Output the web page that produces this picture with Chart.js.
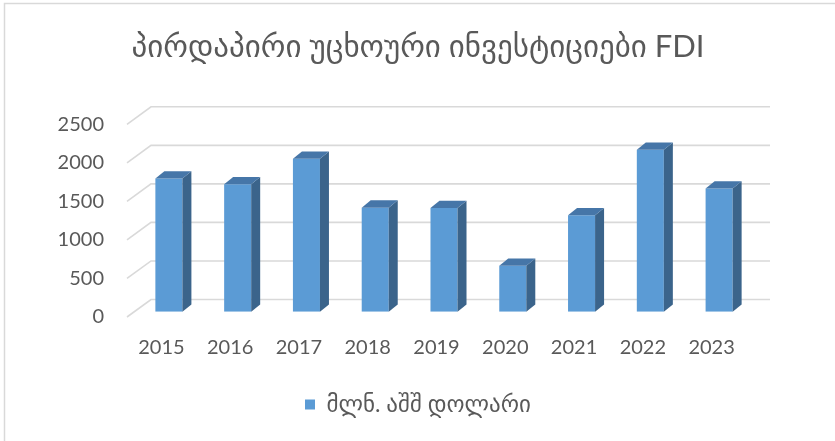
<!DOCTYPE html>
<html>
<head>
<meta charset="utf-8">
<script src="https://cdn.jsdelivr.net/npm/chart.js@4.4.1/dist/chart.umd.min.js"></script>
<style>
  html, body { margin: 0; padding: 0; background: #fff; }
  canvas { display: block; }
</style>
</head>
<body>
<canvas id="fdi" width="835" height="441"></canvas>
<script>
// data (million USD)
const years = ['2015', '2016', '2017', '2018', '2019', '2020', '2021', '2022', '2023'];
const fdiValues = [1728, 1654, 1985, 1350, 1345, 597, 1250, 2100, 1598];
const yTicks = [0, 500, 1000, 1500, 2000, 2500];

const TITLE = 'პირდაპირი უცხოური ინვესტიციები FDI';
const SERIES_LABEL = 'მლნ. აშშ დოლარი';

const FONT = "Lato, 'DejaVu Sans', sans-serif";
const TEXT = '#595959';
const GRID = '#d9d9d9';

// fake 3D: wall depth, where the bar fronts sit, how deep a bar is
const WALL = { dx: 24, dy: -17.5 };
const BAR_SHIFT = { dx: 7.5, dy: -5.3 };
const BAR_DEPTH = { dx: 9, dy: -7.3 };

const fake3d = {
  id: 'fake3d',
  beforeDraw(chart) {
    const { ctx, width, height } = chart;
    ctx.save();
    ctx.fillStyle = '#fff';
    ctx.fillRect(0, 0, width, height);
    // frame of the chart object (only left and top show in the shot)
    ctx.strokeStyle = '#d9d9d9';
    ctx.lineWidth = 1.5;
    ctx.beginPath();
    ctx.moveTo(4.5, height);
    ctx.lineTo(4.5, 3.5);
    ctx.lineTo(width, 3.5);
    ctx.stroke();
    ctx.restore();
  },
  beforeDatasetsDraw(chart) {
    const { ctx, chartArea } = chart;
    const yScale = chart.scales.y;
    ctx.save();
    ctx.strokeStyle = GRID;
    ctx.lineWidth = 1.6;
    yTicks.forEach((v) => {
      const y = yScale.getPixelForValue(v);
      ctx.beginPath();
      ctx.moveTo(chartArea.left, y);
      ctx.lineTo(chartArea.left + WALL.dx, y + WALL.dy);
      ctx.lineTo(chartArea.right + WALL.dx, y + WALL.dy);
      ctx.stroke();
    });
    ctx.restore();
    // bars get drawn a bit into the depth
    ctx.save();
    ctx.translate(BAR_SHIFT.dx, BAR_SHIFT.dy);
  },
  afterDatasetsDraw(chart) {
    const { ctx } = chart;
    const meta = chart.getDatasetMeta(0);
    meta.data.forEach((bar) => {
      const { x, y, base, width } = bar.getProps(['x', 'y', 'base', 'width'], true);
      const l = x - width / 2;
      const r = x + width / 2;
      // side
      ctx.fillStyle = '#3b648b';
      ctx.beginPath();
      ctx.moveTo(r, y);
      ctx.lineTo(r + BAR_DEPTH.dx, y + BAR_DEPTH.dy);
      ctx.lineTo(r + BAR_DEPTH.dx, base + BAR_DEPTH.dy);
      ctx.lineTo(r, base);
      ctx.closePath();
      ctx.fill();
      // top
      ctx.fillStyle = '#4676a8';
      ctx.beginPath();
      ctx.moveTo(l, y);
      ctx.lineTo(l + BAR_DEPTH.dx, y + BAR_DEPTH.dy);
      ctx.lineTo(r + BAR_DEPTH.dx, y + BAR_DEPTH.dy);
      ctx.lineTo(r, y);
      ctx.closePath();
      ctx.fill();
    });
    ctx.restore();
  },
};

new Chart(document.getElementById('fdi'), {
  type: 'bar',
  data: {
    labels: years,
    datasets: [{
      label: SERIES_LABEL,
      data: fdiValues,
      backgroundColor: '#5b9bd5',
      borderWidth: 0,
      barPercentage: 0.393,
      categoryPercentage: 1,
    }],
  },
  options: {
    responsive: false,
    animation: false,
    layout: { padding: { left: 55, right: 54, top: 0, bottom: 15 } },
    plugins: {
      title: {
        display: true,
        text: TITLE,
        color: TEXT,
        font: { family: FONT, size: 31, weight: 'normal' },
        padding: { top: 28.8, bottom: 58.3 },
      },
      legend: {
        display: true,
        position: 'bottom',
        labels: {
          color: TEXT,
          font: { family: FONT, size: 23 },
          boxWidth: 10,
          boxHeight: 10,
          padding: 10,
        },
      },
      tooltip: { enabled: false },
    },
    scales: {
      x: {
        grid: { display: false, drawTicks: false },
        border: { display: false },
        ticks: { color: TEXT, font: { family: FONT, size: 20 }, padding: 19 },
        afterFit: (s) => { s.height += 4; },
      },
      y: {
        min: 0,
        max: 2500,
        grid: { display: false, drawTicks: false },
        border: { display: false },
        ticks: {
          stepSize: 500,
          color: TEXT,
          font: { family: FONT, size: 20 },
          padding: 23,
          callback: (v) => String(v),
        },
        afterFit: (s) => { s.width = 72; },
      },
      // empty spacer on the right so title and legend centre like the original
      spacer: {
        position: 'right',
        display: true,
        grid: { display: false, drawTicks: false },
        border: { display: false },
        ticks: { display: false },
        afterFit: (s) => { s.width = 35; },
      },
    },
  },
  plugins: [fake3d],
});
</script>
</body>
</html>
